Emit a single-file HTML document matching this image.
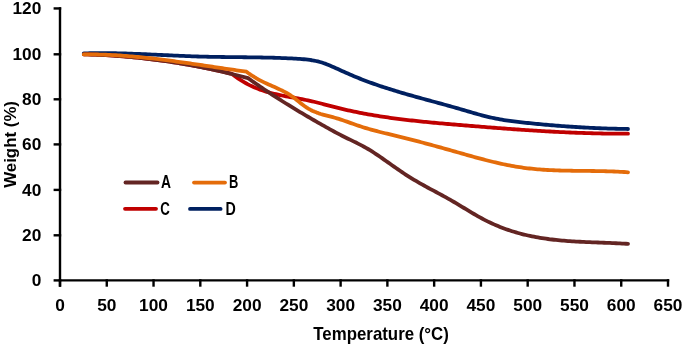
<!DOCTYPE html>
<html><head><meta charset="utf-8"><style>
html,body{margin:0;padding:0;background:#fff;}
svg{display:block;will-change:transform;filter:blur(0.3px);}
text{font-family:"Liberation Sans",sans-serif;font-weight:bold;fill:#000;}
</style></head><body>
<svg width="685" height="345" viewBox="0 0 685 345">
<rect width="685" height="345" fill="#fff"/>
<g stroke="#000" stroke-width="2.4" stroke-linecap="square" fill="none">
<line x1="60" y1="8.45" x2="60" y2="285.5"/>
<line x1="60" y1="280.4" x2="668" y2="280.4"/>
<line x1="54.8" y1="280.40" x2="60" y2="280.40"/><line x1="54.8" y1="235.30" x2="60" y2="235.30"/><line x1="54.8" y1="189.90" x2="60" y2="189.90"/><line x1="54.8" y1="144.40" x2="60" y2="144.40"/><line x1="54.8" y1="99.30" x2="60" y2="99.30"/><line x1="54.8" y1="54.30" x2="60" y2="54.30"/><line x1="54.8" y1="8.45" x2="60" y2="8.45"/>
<line x1="60.00" y1="280.4" x2="60.00" y2="285.5"/><line x1="106.77" y1="280.4" x2="106.77" y2="285.5"/><line x1="153.54" y1="280.4" x2="153.54" y2="285.5"/><line x1="200.31" y1="280.4" x2="200.31" y2="285.5"/><line x1="247.08" y1="280.4" x2="247.08" y2="285.5"/><line x1="293.85" y1="280.4" x2="293.85" y2="285.5"/><line x1="340.62" y1="280.4" x2="340.62" y2="285.5"/><line x1="387.38" y1="280.4" x2="387.38" y2="285.5"/><line x1="434.15" y1="280.4" x2="434.15" y2="285.5"/><line x1="480.92" y1="280.4" x2="480.92" y2="285.5"/><line x1="527.69" y1="280.4" x2="527.69" y2="285.5"/><line x1="574.46" y1="280.4" x2="574.46" y2="285.5"/><line x1="621.23" y1="280.4" x2="621.23" y2="285.5"/><line x1="668.00" y1="280.4" x2="668.00" y2="285.5"/>
</g>
<g font-size="17.3px">
<text x="41.3" y="286.00" text-anchor="end">0</text><text x="41.3" y="240.90" text-anchor="end">20</text><text x="41.3" y="195.50" text-anchor="end">40</text><text x="41.3" y="150.00" text-anchor="end">60</text><text x="41.3" y="104.90" text-anchor="end">80</text><text x="41.3" y="59.90" text-anchor="end">100</text><text x="41.3" y="14.05" text-anchor="end">120</text>
<text x="60.00" y="310.9" text-anchor="middle">0</text><text x="106.77" y="310.9" text-anchor="middle">50</text><text x="153.54" y="310.9" text-anchor="middle">100</text><text x="200.31" y="310.9" text-anchor="middle">150</text><text x="247.08" y="310.9" text-anchor="middle">200</text><text x="293.85" y="310.9" text-anchor="middle">250</text><text x="340.62" y="310.9" text-anchor="middle">300</text><text x="387.38" y="310.9" text-anchor="middle">350</text><text x="434.15" y="310.9" text-anchor="middle">400</text><text x="480.92" y="310.9" text-anchor="middle">450</text><text x="527.69" y="310.9" text-anchor="middle">500</text><text x="574.46" y="310.9" text-anchor="middle">550</text><text x="621.23" y="310.9" text-anchor="middle">600</text><text x="668.00" y="310.9" text-anchor="middle">650</text>
</g>
<g fill="none" stroke-width="3.8" stroke-linecap="round" stroke-linejoin="round">
<path d="M83.80 53.40 L85.80 53.34 L87.80 53.29 L89.80 53.24 L91.80 53.21 L93.80 53.18 L95.80 53.16 L97.81 53.14 L99.81 53.13 L101.81 53.13 L103.81 53.13 L105.81 53.14 L107.81 53.15 L109.81 53.17 L111.81 53.20 L113.81 53.23 L115.81 53.27 L117.81 53.31 L119.81 53.35 L121.81 53.40 L123.81 53.46 L125.82 53.51 L127.82 53.57 L129.82 53.64 L131.82 53.71 L133.82 53.78 L135.82 53.85 L137.82 53.93 L139.82 54.01 L141.82 54.09 L143.82 54.17 L145.82 54.26 L147.82 54.35 L149.82 54.44 L151.82 54.53 L153.83 54.62 L155.83 54.71 L157.83 54.80 L159.83 54.89 L161.83 54.99 L163.83 55.08 L165.83 55.17 L167.83 55.27 L169.83 55.36 L171.83 55.45 L173.83 55.54 L175.83 55.63 L177.83 55.72 L179.84 55.81 L181.84 55.89 L183.84 55.97 L185.84 56.05 L187.84 56.13 L189.84 56.21 L191.84 56.28 L193.84 56.35 L195.84 56.41 L197.84 56.48 L199.84 56.54 L201.84 56.59 L203.84 56.64 L205.84 56.69 L207.85 56.74 L209.85 56.78 L211.85 56.82 L213.85 56.85 L215.85 56.89 L217.85 56.92 L219.85 56.95 L221.85 56.98 L223.85 57.00 L225.85 57.03 L227.85 57.05 L229.85 57.08 L231.85 57.10 L233.86 57.12 L235.86 57.14 L237.86 57.16 L239.86 57.18 L241.86 57.21 L243.86 57.23 L245.86 57.25 L247.86 57.28 L249.86 57.30 L251.86 57.33 L253.86 57.36 L255.86 57.39 L257.86 57.42 L259.86 57.45 L261.87 57.49 L263.87 57.53 L265.87 57.57 L267.87 57.62 L269.87 57.66 L271.87 57.72 L273.87 57.77 L275.87 57.83 L277.87 57.90 L279.87 57.96 L281.87 58.04 L283.87 58.11 L285.87 58.20 L287.88 58.28 L289.88 58.38 L291.88 58.47 L293.88 58.58 L295.88 58.69 L297.88 58.81 L299.88 58.94 L301.88 59.09 L303.88 59.26 L305.88 59.46 L307.88 59.68 L309.88 59.95 L311.88 60.25 L313.88 60.60 L315.89 61.00 L317.89 61.46 L319.89 61.97 L321.89 62.55 L323.89 63.19 L325.89 63.91 L327.89 64.69 L329.89 65.52 L331.89 66.38 L333.89 67.27 L335.89 68.18 L337.89 69.09 L339.89 70.00 L341.89 70.91 L343.90 71.82 L345.90 72.72 L347.90 73.61 L349.90 74.48 L351.90 75.34 L353.90 76.18 L355.90 77.01 L357.90 77.83 L359.90 78.63 L361.90 79.41 L363.90 80.19 L365.90 80.95 L367.90 81.69 L369.91 82.43 L371.91 83.15 L373.91 83.86 L375.91 84.56 L377.91 85.25 L379.91 85.93 L381.91 86.60 L383.91 87.26 L385.91 87.91 L387.91 88.55 L389.91 89.18 L391.91 89.81 L393.91 90.43 L395.91 91.04 L397.92 91.64 L399.92 92.24 L401.92 92.83 L403.92 93.41 L405.92 93.99 L407.92 94.56 L409.92 95.13 L411.92 95.70 L413.92 96.26 L415.92 96.82 L417.92 97.37 L419.92 97.93 L421.92 98.48 L423.93 99.02 L425.93 99.57 L427.93 100.12 L429.93 100.66 L431.93 101.21 L433.93 101.75 L435.93 102.29 L437.93 102.84 L439.93 103.39 L441.93 103.93 L443.93 104.48 L445.93 105.04 L447.93 105.59 L449.93 106.15 L451.94 106.71 L453.94 107.28 L455.94 107.84 L457.94 108.42 L459.94 109.00 L461.94 109.58 L463.94 110.17 L465.94 110.76 L467.94 111.35 L469.94 111.93 L471.94 112.52 L473.94 113.10 L475.94 113.67 L477.94 114.23 L479.95 114.78 L481.95 115.32 L483.95 115.84 L485.95 116.35 L487.95 116.84 L489.95 117.31 L491.95 117.76 L493.95 118.19 L495.95 118.59 L497.95 118.97 L499.95 119.34 L501.95 119.68 L503.95 120.01 L505.96 120.32 L507.96 120.62 L509.96 120.90 L511.96 121.17 L513.96 121.43 L515.96 121.68 L517.96 121.92 L519.96 122.15 L521.96 122.37 L523.96 122.59 L525.96 122.80 L527.96 123.01 L529.96 123.21 L531.96 123.41 L533.97 123.61 L535.97 123.81 L537.97 124.00 L539.97 124.19 L541.97 124.38 L543.97 124.56 L545.97 124.74 L547.97 124.91 L549.97 125.08 L551.97 125.25 L553.97 125.42 L555.97 125.58 L557.97 125.74 L559.98 125.89 L561.98 126.05 L563.98 126.19 L565.98 126.34 L567.98 126.48 L569.98 126.62 L571.98 126.75 L573.98 126.88 L575.98 127.01 L577.98 127.13 L579.98 127.25 L581.98 127.37 L583.98 127.48 L585.98 127.59 L587.99 127.70 L589.99 127.80 L591.99 127.89 L593.99 127.99 L595.99 128.08 L597.99 128.16 L599.99 128.25 L601.99 128.33 L603.99 128.40 L605.99 128.47 L607.99 128.54 L609.99 128.60 L611.99 128.66 L613.99 128.72 L616.00 128.77 L618.00 128.82 L620.00 128.86 L622.00 128.90 L624.00 128.94 L626.00 128.97 L628.00 129.00" stroke="#002060"/>
<path d="M83.80 54.30 L85.80 54.36 L87.81 54.42 L89.81 54.49 L91.81 54.56 L93.81 54.64 L95.82 54.72 L97.82 54.81 L99.82 54.91 L101.82 55.01 L103.83 55.11 L105.83 55.22 L107.83 55.34 L109.84 55.46 L111.84 55.58 L113.84 55.72 L115.84 55.85 L117.85 56.00 L119.85 56.15 L121.85 56.30 L123.85 56.46 L125.86 56.62 L127.86 56.79 L129.86 56.97 L131.86 57.15 L133.87 57.34 L135.87 57.53 L137.87 57.73 L139.88 57.94 L141.88 58.15 L143.88 58.36 L145.88 58.59 L147.89 58.81 L149.89 59.05 L151.89 59.29 L153.89 59.53 L155.90 59.78 L157.90 60.04 L159.90 60.30 L161.91 60.57 L163.91 60.85 L165.91 61.13 L167.91 61.41 L169.92 61.71 L171.92 62.01 L173.92 62.31 L175.92 62.62 L177.93 62.94 L179.93 63.26 L181.93 63.59 L183.94 63.93 L185.94 64.27 L187.94 64.62 L189.94 64.97 L191.95 65.33 L193.95 65.70 L195.95 66.07 L197.95 66.45 L199.96 66.84 L201.96 67.23 L203.96 67.63 L205.96 68.04 L207.97 68.45 L209.97 68.87 L211.97 69.29 L213.98 69.72 L215.98 70.16 L217.98 70.60 L219.98 71.05 L221.99 71.51 L223.99 71.98 L225.99 72.45 L227.99 72.92 L230.00 73.41 L232.00 73.90 L234.00 75.44 L236.00 76.92 L238.00 78.33 L240.00 79.66 L242.00 80.93 L244.00 82.13 L246.00 83.27 L248.00 84.35 L250.00 85.36 L252.00 86.31 L254.00 87.21 L256.00 88.06 L258.00 88.85 L260.00 89.60 L262.00 90.30 L264.00 90.97 L266.00 91.59 L268.00 92.17 L270.00 92.73 L272.00 93.25 L274.00 93.74 L276.00 94.21 L278.00 94.66 L280.00 95.08 L282.00 95.49 L284.00 95.89 L286.00 96.27 L288.00 96.65 L290.00 97.01 L292.00 97.38 L294.00 97.74 L296.00 98.10 L298.00 98.46 L300.00 98.83 L302.00 99.21 L304.00 99.60 L306.00 99.99 L308.00 100.41 L310.00 100.84 L312.00 101.29 L314.00 101.76 L316.00 102.25 L318.00 102.75 L320.00 103.26 L322.00 103.77 L324.00 104.30 L326.00 104.82 L328.00 105.35 L330.00 105.88 L332.00 106.40 L334.00 106.92 L336.00 107.43 L338.00 107.93 L340.00 108.42 L342.00 108.90 L344.00 109.37 L346.00 109.83 L348.00 110.28 L350.00 110.72 L352.00 111.15 L354.00 111.57 L356.00 111.98 L358.00 112.39 L360.00 112.78 L362.00 113.17 L364.00 113.55 L366.00 113.92 L368.00 114.28 L370.00 114.63 L372.00 114.98 L374.00 115.31 L376.00 115.65 L378.00 115.97 L380.00 116.29 L382.00 116.59 L384.00 116.90 L386.00 117.19 L388.00 117.48 L390.00 117.77 L392.00 118.04 L394.00 118.31 L396.00 118.58 L398.00 118.84 L400.00 119.09 L402.00 119.34 L404.00 119.59 L406.00 119.83 L408.00 120.06 L410.00 120.29 L412.00 120.51 L414.00 120.73 L416.00 120.95 L418.00 121.16 L420.00 121.37 L422.00 121.58 L424.00 121.78 L426.00 121.98 L428.00 122.17 L430.00 122.36 L432.00 122.55 L434.00 122.74 L436.00 122.92 L438.00 123.11 L440.00 123.29 L442.00 123.46 L444.00 123.64 L446.00 123.81 L448.00 123.99 L450.00 124.16 L452.00 124.33 L454.00 124.50 L456.00 124.66 L458.00 124.83 L460.00 125.00 L462.00 125.17 L464.00 125.33 L466.00 125.50 L468.00 125.66 L470.00 125.83 L472.00 125.99 L474.00 126.15 L476.00 126.32 L478.00 126.48 L480.00 126.64 L482.00 126.80 L484.00 126.96 L486.00 127.12 L488.00 127.28 L490.00 127.44 L492.00 127.59 L494.00 127.75 L496.00 127.90 L498.00 128.05 L500.00 128.21 L502.00 128.36 L504.00 128.51 L506.00 128.65 L508.00 128.80 L510.00 128.95 L512.00 129.09 L514.00 129.23 L516.00 129.38 L518.00 129.52 L520.00 129.65 L522.00 129.79 L524.00 129.93 L526.00 130.06 L528.00 130.19 L530.00 130.32 L532.00 130.45 L534.00 130.58 L536.00 130.70 L538.00 130.82 L540.00 130.94 L542.00 131.06 L544.00 131.18 L546.00 131.29 L548.00 131.40 L550.00 131.52 L552.00 131.62 L554.00 131.73 L556.00 131.83 L558.00 131.93 L560.00 132.03 L562.00 132.13 L564.00 132.22 L566.00 132.31 L568.00 132.40 L570.00 132.49 L572.00 132.57 L574.00 132.65 L576.00 132.73 L578.00 132.81 L580.00 132.88 L582.00 132.95 L584.00 133.02 L586.00 133.08 L588.00 133.14 L590.00 133.20 L592.00 133.26 L594.00 133.31 L596.00 133.36 L598.00 133.41 L600.00 133.45 L602.00 133.49 L604.00 133.53 L606.00 133.56 L608.00 133.59 L610.00 133.62 L612.00 133.64 L614.00 133.66 L616.00 133.67 L618.00 133.69 L620.00 133.70 L622.00 133.70 L624.00 133.70 L626.00 133.70 L628.00 133.69" stroke="#C00000"/>
<path d="M83.80 54.30 L85.80 54.34 L87.80 54.39 L89.81 54.44 L91.81 54.51 L93.81 54.57 L95.81 54.65 L97.82 54.73 L99.82 54.81 L101.82 54.91 L103.82 55.00 L105.83 55.11 L107.83 55.22 L109.83 55.34 L111.83 55.46 L113.84 55.59 L115.84 55.73 L117.84 55.87 L119.84 56.02 L121.85 56.18 L123.85 56.34 L125.85 56.50 L127.85 56.68 L129.86 56.86 L131.86 57.04 L133.86 57.24 L135.86 57.43 L137.87 57.64 L139.87 57.85 L141.87 58.06 L143.87 58.29 L145.88 58.52 L147.88 58.75 L149.88 58.99 L151.88 59.24 L153.89 59.49 L155.89 59.75 L157.89 60.02 L159.89 60.29 L161.90 60.56 L163.90 60.85 L165.90 61.14 L167.90 61.43 L169.90 61.73 L171.91 62.04 L173.91 62.35 L175.91 62.67 L177.91 63.00 L179.92 63.33 L181.92 63.67 L183.92 64.01 L185.92 64.36 L187.93 64.71 L189.93 65.08 L191.93 65.44 L193.93 65.82 L195.94 66.19 L197.94 66.58 L199.94 66.97 L201.94 67.37 L203.95 67.77 L205.95 68.18 L207.95 68.59 L209.95 69.01 L211.96 69.44 L213.96 69.87 L215.96 70.31 L217.96 70.75 L219.97 71.20 L221.97 71.65 L223.97 72.11 L225.97 72.58 L227.98 73.05 L229.98 73.53 L231.98 74.02 L233.98 74.51 L235.99 75.00 L237.99 75.50 L239.99 76.01 L241.99 76.52 L244.00 77.04 L246.00 77.56 L248.00 78.09 L250.00 79.53 L252.00 80.95 L254.00 82.36 L256.00 83.76 L258.00 85.15 L260.00 86.52 L262.00 87.89 L264.00 89.24 L266.00 90.59 L268.00 91.92 L270.00 93.24 L272.00 94.56 L274.00 95.86 L276.00 97.15 L278.00 98.44 L280.00 99.71 L282.00 100.98 L284.00 102.24 L286.00 103.49 L288.00 104.73 L290.00 105.97 L292.00 107.19 L294.00 108.41 L296.00 109.62 L298.00 110.83 L300.00 112.02 L302.00 113.22 L304.00 114.40 L306.00 115.58 L308.00 116.75 L310.00 117.92 L312.00 119.08 L314.00 120.24 L316.00 121.39 L318.00 122.54 L320.00 123.68 L322.00 124.82 L324.00 125.95 L326.00 127.08 L328.00 128.20 L330.00 129.31 L332.00 130.41 L334.00 131.50 L336.00 132.58 L338.00 133.64 L340.00 134.69 L342.00 135.71 L344.00 136.72 L346.00 137.71 L348.00 138.69 L350.00 139.66 L352.00 140.63 L354.00 141.60 L356.00 142.58 L358.00 143.58 L360.00 144.60 L362.00 145.65 L364.00 146.73 L366.00 147.85 L368.00 149.01 L370.00 150.22 L372.00 151.46 L374.00 152.75 L376.00 154.07 L378.00 155.41 L380.00 156.78 L382.00 158.17 L384.00 159.57 L386.00 160.98 L388.00 162.39 L390.00 163.80 L392.00 165.22 L394.00 166.62 L396.00 168.02 L398.00 169.40 L400.00 170.77 L402.00 172.13 L404.00 173.47 L406.00 174.79 L408.00 176.08 L410.00 177.35 L412.00 178.59 L414.00 179.80 L416.00 180.99 L418.00 182.15 L420.00 183.30 L422.00 184.42 L424.00 185.53 L426.00 186.63 L428.00 187.72 L430.00 188.80 L432.00 189.87 L434.00 190.94 L436.00 192.01 L438.00 193.08 L440.00 194.16 L442.00 195.24 L444.00 196.33 L446.00 197.43 L448.00 198.55 L450.00 199.68 L452.00 200.83 L454.00 201.99 L456.00 203.18 L458.00 204.37 L460.00 205.58 L462.00 206.79 L464.00 208.00 L466.00 209.21 L468.00 210.42 L470.00 211.62 L472.00 212.82 L474.00 213.99 L476.00 215.15 L478.00 216.30 L480.00 217.41 L482.00 218.51 L484.00 219.57 L486.00 220.60 L488.00 221.60 L490.00 222.56 L492.00 223.49 L494.00 224.39 L496.00 225.26 L498.00 226.10 L500.00 226.91 L502.00 227.70 L504.00 228.45 L506.00 229.17 L508.00 229.87 L510.00 230.54 L512.00 231.19 L514.00 231.81 L516.00 232.40 L518.00 232.97 L520.00 233.52 L522.00 234.04 L524.00 234.54 L526.00 235.02 L528.00 235.48 L530.00 235.92 L532.00 236.33 L534.00 236.73 L536.00 237.11 L538.00 237.47 L540.00 237.81 L542.00 238.13 L544.00 238.44 L546.00 238.73 L548.00 239.00 L550.00 239.26 L552.00 239.51 L554.00 239.74 L556.00 239.96 L558.00 240.17 L560.00 240.36 L562.00 240.54 L564.00 240.71 L566.00 240.87 L568.00 241.02 L570.00 241.17 L572.00 241.30 L574.00 241.42 L576.00 241.54 L578.00 241.65 L580.00 241.76 L582.00 241.86 L584.00 241.95 L586.00 242.04 L588.00 242.13 L590.00 242.21 L592.00 242.29 L594.00 242.36 L596.00 242.44 L598.00 242.51 L600.00 242.59 L602.00 242.66 L604.00 242.74 L606.00 242.81 L608.00 242.89 L610.00 242.97 L612.00 243.05 L614.00 243.14 L616.00 243.23 L618.00 243.33 L620.00 243.43 L622.00 243.54 L624.00 243.65 L626.00 243.77 L628.00 243.90" stroke="#632523"/>
<path d="M83.80 54.40 L85.81 54.39 L87.82 54.38 L89.83 54.39 L91.83 54.40 L93.84 54.43 L95.85 54.46 L97.86 54.50 L99.87 54.56 L101.88 54.61 L103.89 54.68 L105.90 54.76 L107.90 54.84 L109.91 54.94 L111.92 55.04 L113.93 55.15 L115.94 55.26 L117.95 55.39 L119.96 55.52 L121.96 55.66 L123.97 55.80 L125.98 55.95 L127.99 56.11 L130.00 56.28 L132.01 56.45 L134.02 56.62 L136.02 56.81 L138.03 57.00 L140.04 57.19 L142.05 57.39 L144.06 57.60 L146.07 57.81 L148.08 58.03 L150.09 58.25 L152.09 58.48 L154.10 58.71 L156.11 58.94 L158.12 59.18 L160.13 59.43 L162.14 59.67 L164.15 59.93 L166.15 60.18 L168.16 60.44 L170.17 60.70 L172.18 60.97 L174.19 61.24 L176.20 61.51 L178.21 61.78 L180.21 62.06 L182.22 62.34 L184.23 62.62 L186.24 62.91 L188.25 63.20 L190.26 63.48 L192.27 63.77 L194.28 64.07 L196.28 64.36 L198.29 64.65 L200.30 64.95 L202.31 65.25 L204.32 65.54 L206.33 65.84 L208.34 66.14 L210.34 66.44 L212.35 66.74 L214.36 67.04 L216.37 67.33 L218.38 67.63 L220.39 67.93 L222.40 68.23 L224.40 68.53 L226.41 68.82 L228.42 69.12 L230.43 69.41 L232.44 69.70 L234.45 69.99 L236.46 70.28 L238.47 70.57 L240.47 70.85 L242.48 71.14 L244.49 71.42 L246.50 71.70 L248.51 73.21 L250.52 74.63 L252.52 75.97 L254.53 77.23 L256.54 78.42 L258.55 79.54 L260.56 80.61 L262.56 81.62 L264.57 82.60 L266.58 83.54 L268.59 84.46 L270.59 85.35 L272.60 86.23 L274.61 87.11 L276.62 88.00 L278.63 88.91 L280.63 89.85 L282.64 90.83 L284.65 91.87 L286.66 92.98 L288.67 94.17 L290.67 95.45 L292.68 96.84 L294.69 98.33 L296.70 99.93 L298.71 101.56 L300.71 103.20 L302.72 104.79 L304.73 106.28 L306.74 107.64 L308.74 108.86 L310.75 109.95 L312.76 110.93 L314.77 111.81 L316.78 112.60 L318.78 113.32 L320.79 113.97 L322.80 114.56 L324.81 115.12 L326.82 115.65 L328.82 116.17 L330.83 116.68 L332.84 117.20 L334.85 117.74 L336.86 118.31 L338.86 118.92 L340.87 119.57 L342.88 120.25 L344.89 120.94 L346.89 121.65 L348.90 122.37 L350.91 123.10 L352.92 123.82 L354.93 124.53 L356.93 125.23 L358.94 125.91 L360.95 126.56 L362.96 127.20 L364.97 127.82 L366.97 128.42 L368.98 129.00 L370.99 129.57 L373.00 130.12 L375.01 130.66 L377.01 131.20 L379.02 131.72 L381.03 132.23 L383.04 132.73 L385.04 133.23 L387.05 133.72 L389.06 134.21 L391.07 134.69 L393.08 135.17 L395.08 135.66 L397.09 136.14 L399.10 136.62 L401.11 137.11 L403.12 137.61 L405.12 138.10 L407.13 138.61 L409.14 139.11 L411.15 139.62 L413.16 140.14 L415.16 140.65 L417.17 141.18 L419.18 141.70 L421.19 142.23 L423.19 142.76 L425.20 143.30 L427.21 143.84 L429.22 144.38 L431.23 144.92 L433.23 145.47 L435.24 146.02 L437.25 146.57 L439.26 147.13 L441.27 147.68 L443.27 148.24 L445.28 148.81 L447.29 149.37 L449.30 149.94 L451.31 150.50 L453.31 151.07 L455.32 151.64 L457.33 152.22 L459.34 152.79 L461.34 153.36 L463.35 153.93 L465.36 154.50 L467.37 155.06 L469.38 155.63 L471.38 156.19 L473.39 156.74 L475.40 157.30 L477.41 157.84 L479.42 158.39 L481.42 158.92 L483.43 159.45 L485.44 159.97 L487.45 160.49 L489.46 160.99 L491.46 161.49 L493.47 161.98 L495.48 162.46 L497.49 162.92 L499.49 163.38 L501.50 163.82 L503.51 164.25 L505.52 164.67 L507.53 165.08 L509.53 165.47 L511.54 165.85 L513.55 166.21 L515.56 166.55 L517.57 166.88 L519.57 167.20 L521.58 167.49 L523.59 167.77 L525.60 168.03 L527.61 168.28 L529.61 168.51 L531.62 168.73 L533.63 168.93 L535.64 169.11 L537.64 169.29 L539.65 169.45 L541.66 169.60 L543.67 169.74 L545.68 169.86 L547.68 169.98 L549.69 170.09 L551.70 170.18 L553.71 170.27 L555.72 170.35 L557.72 170.42 L559.73 170.49 L561.74 170.55 L563.75 170.60 L565.76 170.64 L567.76 170.69 L569.77 170.72 L571.78 170.76 L573.79 170.79 L575.79 170.81 L577.80 170.84 L579.81 170.86 L581.82 170.88 L583.83 170.90 L585.83 170.92 L587.84 170.94 L589.85 170.97 L591.86 170.99 L593.87 171.01 L595.87 171.04 L597.88 171.07 L599.89 171.11 L601.90 171.15 L603.91 171.19 L605.91 171.24 L607.92 171.30 L609.93 171.36 L611.94 171.43 L613.94 171.51 L615.95 171.59 L617.96 171.69 L619.97 171.79 L621.98 171.90 L623.98 172.02 L625.99 172.16 L628.00 172.30" stroke="#E46C0A"/>
</g>
<g stroke-width="3.8" stroke-linecap="round">
<line x1="125.5" y1="182.5" x2="157.5" y2="182.5" stroke="#632523"/>
<line x1="194" y1="182.6" x2="225" y2="182.6" stroke="#E46C0A"/>
<line x1="125" y1="208.8" x2="156" y2="208.8" stroke="#C00000"/>
<line x1="190" y1="208.9" x2="220.6" y2="208.9" stroke="#002060"/>
</g>
<g font-size="17.8px">
<text x="161" y="188.2" textLength="10" lengthAdjust="spacingAndGlyphs">A</text>
<text x="229" y="188.2" textLength="9.3" lengthAdjust="spacingAndGlyphs">B</text>
<text x="160.2" y="214.5" textLength="9.6" lengthAdjust="spacingAndGlyphs">C</text>
<text x="225.4" y="214.6" textLength="10.3" lengthAdjust="spacingAndGlyphs">D</text>
</g>
<text x="313.3" y="339.7" font-size="17.8px" textLength="135.6" lengthAdjust="spacingAndGlyphs">Temperature (°C)</text>
<text transform="translate(16.2,187.8) rotate(-90)" font-size="17.3px" textLength="86.8" lengthAdjust="spacingAndGlyphs">Weight (%)</text>
</svg>
</body></html>
